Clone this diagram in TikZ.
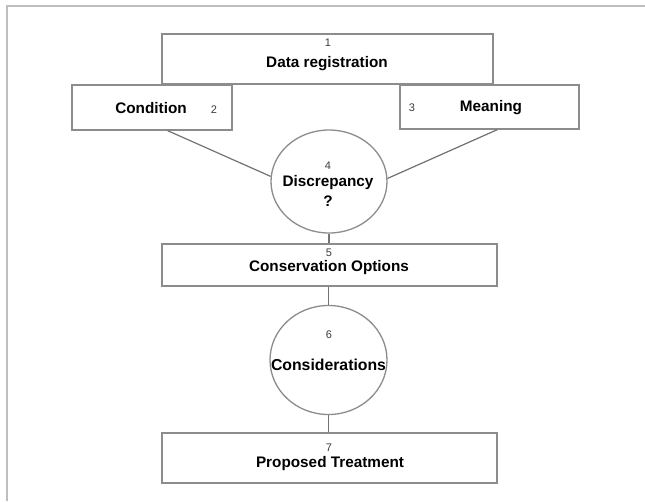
\documentclass[tikz,border=0pt]{standalone}
\usepackage{fontspec}
\setmainfont{Liberation Sans}
\usetikzlibrary{shapes.geometric}
\definecolor{boxgray}{RGB}{140,140,140}
\definecolor{linegray}{RGB}{115,115,115}
\definecolor{framegray}{RGB}{190,190,190}
\definecolor{numgray}{RGB}{60,60,60}
\begin{document}
\begin{tikzpicture}[x=1pt,y=-1pt,
  box/.style={draw=boxgray,line width=1.3pt,rectangle,inner sep=0pt,fill=white},
  oval/.style={draw=boxgray,line width=1.3pt,ellipse,inner sep=0pt,fill=white},
  link/.style={draw=linegray,line width=1.2pt},
  lbl/.style={font=\fontsize{15.3}{18}\selectfont\bfseries,inner sep=0pt,text=black},
  num/.style={font=\fontsize{11}{13}\selectfont,inner sep=0pt,text=numgray}]
\useasboundingbox (0,0) rectangle (645,501);
\fill[white] (0,0) rectangle (645,501);
\draw[framegray,line width=2.5pt] (7,501) -- (7,6) -- (645,6);

% shapes
\node[box,minimum width=331pt,minimum height=50pt] (b1) at (327.5,59) {};
\node[box,minimum width=160pt,minimum height=45pt] (b2) at (152,107.5) {};
\node[box,minimum width=179pt,minimum height=44pt] (b3) at (489.5,107) {};
\node[oval,minimum width=116pt,minimum height=103pt] (c4) at (329,181.5) {};
\node[box,minimum width=335pt,minimum height=42pt] (b5) at (329.5,265) {};
\node[oval,minimum width=117pt,minimum height=109pt] (c6) at (328.5,360) {};
\node[box,minimum width=335pt,minimum height=50pt] (b7) at (329.5,458) {};

% connectors
\draw[link] (b2.-56.3) -- (c4.175.6);
\draw[link] (b3.-71.2) -- (c4.3.5);
\draw[link] (c4.south) -- (c4.south |- b5.north);
\draw[link] (c6.north |- b5.south) -- (c6.north);
\draw[link] (c6.south) -- (c6.south |- b7.north);

% texts
\node[num] (n1) at (328,43) {1};
\node[lbl] (t1) at (327,64) {Data registration};
\node[lbl] (t2) at (151,108) {Condition};
\node[num] (n2) at (214,110) {2};
\node[num] (n3) at (412,108) {3};
\node[lbl] (t3) at (491,108) {Meaning};
\node[num] (n4) at (328,166) {4};
\node[lbl] (t4) at (328,182.5) {Discrepancy};
\node[lbl] (q4) at (328,201) {?};
\node[num] (n5) at (329,253) {5};
\node[lbl] (t5) at (329,268) {Conservation Options};
\node[num] (n6) at (329,335) {6};
\node[lbl,font=\fontsize{15.8}{18}\selectfont\bfseries] (t6) at (328.5,365) {Considerations};
\node[num] (n7) at (329,448) {7};
\node[lbl] (t7) at (330,464) {Proposed Treatment};
\end{tikzpicture}
\end{document}
